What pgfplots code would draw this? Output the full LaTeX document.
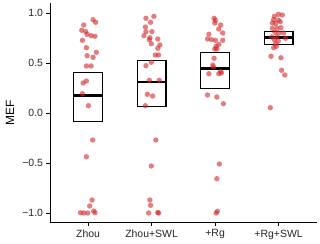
\documentclass[border=0pt]{standalone}
\usepackage{pgfplots}
\pgfplotsset{compat=1.18}
\usepgfplotslibrary{statistics}
\usepackage{fontspec}
\setmainfont{Liberation Sans}
\definecolor{pt}{RGB}{208,40,42}
\begin{document}
\begin{tikzpicture}
\begin{axis}[name=ax, scale only axis, width=266.7bp, height=219.4bp,
 xmin=-0.6, xmax=3.6, ymin=-1.097, ymax=1.097,
 axis x line*=bottom, axis y line*=left, axis line style={line width=0.9bp, -},
 xtick={0,1,2,3}, xticklabels={Zhou,Zhou+SWL,+Rg,+Rg+SWL},
 ytick={-1,-0.5,0,0.5,1}, yticklabels={−1.0,−0.5,0.0,0.5,1.0},
 tick style={black, line width=0.9bp}, tick align=outside, major tick length=3.5bp,
 ticklabel style={font=\fontsize{10.5}{11}\selectfont, text=black!85},
 ylabel={MEF}, ylabel style={font=\fontsize{12}{13}\selectfont, at={(axis description cs:-0.15,0.5)}, anchor=center},
 boxplot/draw direction=y,
 clip=false,
]
\addplot[only marks, mark=*, mark size=2.7bp, color=pt, line width=0pt, mark options={draw opacity=0, fill opacity=0.6}] table {
x y
0.078 0.933
0.119 0.907
-0.069 0.88
-0.1 0.827
-0.038 0.813
-0.016 0.787
0.047 0.773
0.109 0.767
-0.089 0.727
-0.027 0.653
0.13 0.607
-0.016 0.573
0.078 0.557
-0.027 0.47
0.047 0.47
-0.027 0.32
-0.078 0.30
-0.089 0.193
0.005 0.073
0.072 -0.27
-0.027 -0.437
0.063 -0.87
0.025 -0.93
-0.12 -0.997
-0.069 -1.0
-0.006 -1.0
0.088 -0.98
0.109 -0.997
1.036 0.967
0.911 0.947
0.984 0.907
0.902 0.86
1.005 0.813
0.911 0.813
0.88 0.773
0.973 0.753
0.964 0.733
1.098 0.74
0.995 0.693
1.13 0.68
1.098 0.647
1.058 0.58
1.109 0.58
0.995 0.507
0.911 0.473
0.964 0.327
1.12 0.327
0.933 0.187
1.016 0.17
0.902 0.073
1.067 -0.27
0.995 -0.53
0.973 -0.87
0.984 -0.923
0.953 -1.0
1.109 -1.0
1.098 -0.995
1.984 0.947
2.005 0.927
1.995 0.90
2.089 0.88
2.058 0.84
2.12 0.80
1.902 0.787
1.88 0.74
1.942 0.733
2.005 0.727
2.12 0.727
2.058 0.687
2.016 0.667
1.995 0.64
2.027 0.64
1.984 0.547
1.964 0.48
1.973 0.46
2.089 0.413
2.058 0.393
1.902 0.393
2.098 0.40
1.88 0.18
2.027 0.16
2.13 0.093
2.067 -0.51
2.027 -0.657
2.036 -0.983
2.016 -1.0
2.995 0.987
3.058 0.98
2.933 0.967
2.922 0.933
2.995 0.927
3.027 0.913
2.902 0.90
2.953 0.893
2.973 0.847
3.036 0.853
2.902 0.847
2.942 0.807
3.005 0.80
3.078 0.80
2.891 0.76
2.973 0.76
3.109 0.747
2.933 0.733
2.995 0.72
2.953 0.693
2.922 0.653
2.964 0.667
2.88 0.567
3.036 0.553
3.047 0.427
3.098 0.38
2.87 0.053
};
\pgfplotsset{boxplot/every median/.style={line width=2.8bp}}
\addplot[boxplot prepared={draw position=0, lower whisker=-0.083, lower quartile=-0.083, median=0.173, upper quartile=0.407, upper whisker=0.407, box extend=0.45, whisker extend=0}, draw=black, line width=1.25bp, fill=none] coordinates {};
\addplot[boxplot prepared={draw position=1, lower whisker=0.065, lower quartile=0.065, median=0.31, upper quartile=0.527, upper whisker=0.527, box extend=0.45, whisker extend=0}, draw=black, line width=1.25bp, fill=none] coordinates {};
\addplot[boxplot prepared={draw position=2, lower whisker=0.247, lower quartile=0.247, median=0.445, upper quartile=0.605, upper whisker=0.605, box extend=0.45, whisker extend=0}, draw=black, line width=1.25bp, fill=none] coordinates {};
\addplot[boxplot prepared={draw position=3, lower whisker=0.687, lower quartile=0.687, median=0.752, upper quartile=0.813, upper whisker=0.813, box extend=0.45, whisker extend=0}, draw=black, line width=1.25bp, fill=none] coordinates {};
\end{axis}
\pgfresetboundingbox
\path[use as bounding box] ([xshift=-50bp,yshift=-21.3bp]ax.south west) rectangle ([xshift=3.3bp,yshift=3.3bp]ax.north east);
\end{tikzpicture}
\end{document}
